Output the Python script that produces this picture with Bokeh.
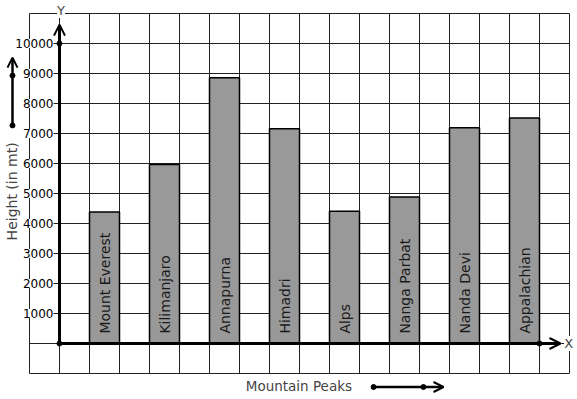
from bokeh.plotting import figure
from bokeh.models import (Range1d, Grid, FixedTicker, ColumnDataSource, LabelSet,
                          Label, Arrow, OpenHead, BoxAnnotation)
from bokeh.core.properties import value
from bokeh.embed import file_html
from bokeh.resources import INLINE
import numpy as np

# ---- data ----
peaks = ["Mount Everest", "Kilimanjaro", "Annapurna", "Himadri",
         "Alps", "Nanga Parbat", "Nanda Devi", "Appalachian"]
heights = [4380, 5970, 8860, 7160, 4410, 4880, 7190, 7520]
bar_x = [1.5, 3.5, 5.5, 7.5, 9.5, 11.5, 13.5, 15.5]
y_ticks = [1000, 2000, 3000, 4000, 5000, 6000, 7000, 8000, 9000, 10000]
y_tick_labels = [str(t) for t in y_ticks]
x_title = "Mountain Peaks"
y_title = "Height (in mt)"

FONT = value("DejaVu Sans")
FONT_S = "DejaVu Sans"

# grid area spans x -1..17 (cells) and y -1000..11000
p = figure(width=577, height=399,
           x_range=Range1d(-59 / 30, 518 / 30), y_range=Range1d(-56000 / 30, 343000 / 30),
           x_axis_location=None, y_axis_location=None,
           toolbar_location=None, output_backend="svg",
           min_border_left=0, min_border_right=0,
           min_border_top=0, min_border_bottom=0,
           background_fill_color="white", border_fill_color="white",
           outline_line_color=None)

p.center = [r for r in p.center if not isinstance(r, Grid)]
xg = Grid(dimension=0, ticker=FixedTicker(ticks=list(range(-1, 18))),
          grid_line_color="#222222", grid_line_width=1, bounds=(-1, 17))
yg = Grid(dimension=1, ticker=FixedTicker(ticks=list(range(-1000, 11001, 1000))),
          grid_line_color="#222222", grid_line_width=1, bounds=(-1000, 11000))
has_cross = "cross_bounds" in Grid.properties()
if has_cross:
    xg.cross_bounds = (-1000, 11000)
    yg.cross_bounds = (-1, 17)
p.add_layout(xg)
p.add_layout(yg)
if not has_cross:
    for kw in [dict(right=-1), dict(left=17), dict(top=-1000), dict(bottom=11000)]:
        p.add_layout(BoxAnnotation(fill_color="white", fill_alpha=1, line_color=None,
                                   level="underlay", **kw))

src = ColumnDataSource(dict(x=bar_x, top=heights, name=peaks))
p.vbar(x="x", top="top", bottom=0, width=1, source=src,
       fill_color="#999999", line_color="black", line_width=1.5)
p.text(x="x", y=330, text="name", source=src, angle=np.pi / 2,
       text_align="left", text_baseline="middle", text_font=FONT,
       text_font_size="14px", text_color="#1a1a1a")

# axes arrows
p.add_layout(Arrow(end=OpenHead(size=11, line_width=2, line_color="black"),
                   x_start=0, y_start=0, x_end=0, y_end=10630,
                   line_width=3, line_color="black"))
p.add_layout(Arrow(end=OpenHead(size=11, line_width=2, line_color="black"),
                   x_start=0, y_start=0, x_end=16.7, y_end=0,
                   line_width=3, line_color="black"))
p.scatter([0, 0, 16], [0, 10000, 0], size=5, color="black")

# tick labels
tsrc = ColumnDataSource(dict(y=y_ticks, t=y_tick_labels))
p.add_layout(LabelSet(x=-0.2, y="y", text="t", source=tsrc, text_align="right",
                      text_baseline="middle", text_font=FONT, text_font_size="12px",
                      text_color="black", background_fill_color="white"))

# axis letters
p.add_layout(Label(x=0.05, y=11100, text="Y", text_align="center", text_baseline="middle",
                   text_font=FONT_S, text_font_size="13px", background_fill_color="white"))
p.add_layout(Label(x=16.97, y=0, text="X", text_align="center", text_baseline="middle",
                   text_font=FONT_S, text_font_size="13px", background_fill_color="white"))

# titles
p.add_layout(Label(x=-1.57, y=5070, text=y_title, angle=np.pi / 2, text_align="center",
                   text_baseline="middle", text_font=FONT_S, text_font_size="14px"))
p.add_layout(Label(x=7.98, y=-1400, text=x_title, text_align="center",
                   text_baseline="middle", text_font=FONT_S, text_font_size="13.5px"))

# decorative direction arrows
p.add_layout(Arrow(end=OpenHead(size=10, line_width=2, line_color="black"),
                   x_start=-1.567, y_start=7270, x_end=-1.567, y_end=9530,
                   line_width=2.5, line_color="black"))
p.add_layout(Arrow(end=OpenHead(size=10, line_width=2, line_color="black"),
                   x_start=10.47, y_start=-1450, x_end=12.8, y_end=-1450,
                   line_width=2.5, line_color="black"))
p.scatter([-1.567, -1.567, 10.47, 12.13], [7270, 8930, -1450, -1450], size=5, color="black")

open("out.html", "w").write(file_html(p, INLINE))
